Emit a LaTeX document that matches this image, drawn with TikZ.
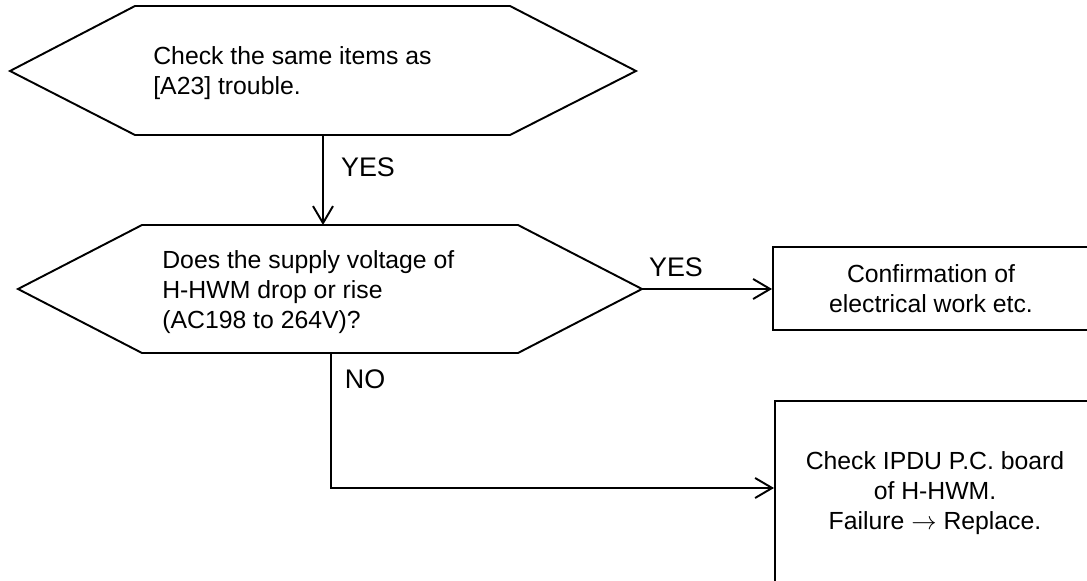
\documentclass[tikz,border=0pt]{standalone}
\usepackage{fontspec}
\setmainfont{Liberation Sans}
\usetikzlibrary{arrows.meta}
\newcommand{\flowfont}{\fontsize{14.1}{17.2}\selectfont}
\newcommand{\labelfont}{\fontsize{15.3}{17}\selectfont}
\tikzset{
  hexline/.style={line width=1.1pt, draw=black, line join=miter},
  flowbox/.style={draw=black, line width=1.1pt, inner sep=0pt, align=center, font=\flowfont},
  flowtext/.style={inner sep=0pt, align=left, anchor=west, font=\flowfont},
  flowarrow/.style={line width=1.1pt, draw=black, -{Straight Barb[length=0.34cm, width=0.40cm]}},
  branchlabel/.style={inner sep=0pt, font=\labelfont},
}

\begin{document}
\begin{tikzpicture}
\useasboundingbox (0,0) rectangle (21.74,11.60);
\clip (0,0) rectangle (21.74,11.60);
\draw[hexline] (0.200,10.180) -- (2.700,11.480) -- (10.200,11.480) -- (12.720,10.180) -- (10.200,8.900) -- (2.700,8.900) -- cycle;
\coordinate (checkout) at (6.460,8.900);
\node[flowtext] (check) at (3.060,10.140) {Check the same items as\\{[A23]} trouble.};
\draw[hexline] (0.360,5.820) -- (2.840,7.100) -- (10.360,7.100) -- (12.840,5.820) -- (10.360,4.540) -- (2.840,4.540) -- cycle;
\coordinate (voltin) at (6.460,7.100);
\coordinate (voltyes) at (12.840,5.820);
\coordinate (voltno) at (6.620,4.540);
\coordinate (nobend) at (6.620,1.840);
\node[flowtext] (volt) at (3.240,5.760) {Does the supply voltage of\\H-HWM drop or rise\\(AC198 to 264V)?};
\node[flowbox, minimum width=6.320cm, minimum height=1.660cm] (confirm) at (18.620,5.830) {Confirmation of\\electrical work etc.};
\node[flowbox, minimum width=6.400cm, minimum height=3.680cm] (ipdu) at (18.700,1.740) {Check IPDU P.C. board\\of H-HWM.\\Failure $\rightarrow$ Replace.};
\draw[flowarrow] (checkout) -- (voltin);
\node[branchlabel] (yes1) at (7.360,8.260) {YES};
\draw[flowarrow] (voltyes) -- (voltyes -| confirm.west);
\node[branchlabel] (yes2) at (13.520,6.260) {YES};
\draw[flowarrow] (voltno) -- (nobend) -- (nobend -| ipdu.west);
\node[branchlabel] (no) at (7.300,4.020) {NO};
\end{tikzpicture}
\end{document}
